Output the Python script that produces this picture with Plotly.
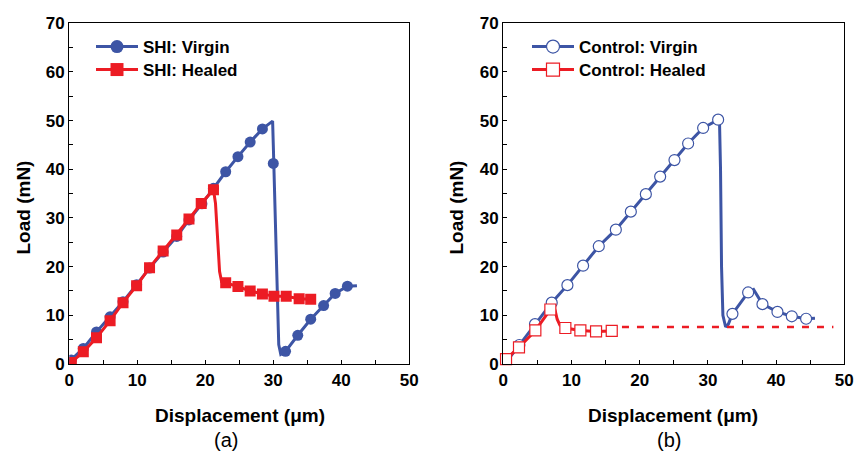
import plotly.graph_objects as go

BLUE = "#3d55a5"
RED = "#ec1c24"

# ---------------- Panel (a): SHI ----------------
shi_virgin_curve_x = [0, 2.06, 4.0, 6.0, 7.9, 9.9, 11.8, 13.8, 15.8, 17.6, 19.5, 21.2, 23.0, 24.8, 26.6,
                      28.4, 29.6, 29.9, 30.0, 30.2, 30.5, 30.8, 31.1, 31.8, 33.6, 35.5, 37.4, 39.1, 40.9, 42.3]
shi_virgin_curve_y = [0.5, 3.2, 6.6, 9.7, 12.8, 16.3, 19.7, 23.0, 26.2, 29.6, 32.9, 36.1, 39.5, 42.6, 45.6,
                      48.3, 49.6, 49.9, 45.0, 35.0, 15.0, 4.0, 2.0, 2.6, 5.9, 9.2, 12.0, 14.5, 16.0, 16.1]
shi_virgin_mark_x = [0.3, 2.06, 4.0, 6.0, 7.9, 9.9, 11.8, 13.8, 15.8, 17.6, 19.5, 21.2, 23.0, 24.8, 26.6,
                     28.4, 30.0, 31.8, 33.6, 35.5, 37.4, 39.1, 40.9]
shi_virgin_mark_y = [0.8, 3.2, 6.6, 9.7, 12.8, 16.3, 19.7, 23.0, 26.2, 29.6, 32.9, 36.1, 39.5, 42.6, 45.6,
                     48.3, 41.2, 2.6, 5.9, 9.2, 12.0, 14.5, 16.0]

shi_healed_curve_x = [0, 2.06, 4.0, 6.0, 7.9, 9.9, 11.8, 13.8, 15.8, 17.6, 19.4, 21.2, 21.5, 21.8, 22.1,
                      22.4, 23.0, 24.8, 26.6, 28.4, 30.1, 31.9, 33.8, 35.5]
shi_healed_curve_y = [0.0, 2.5, 5.4, 8.9, 12.6, 16.1, 19.8, 23.2, 26.5, 29.8, 33.0, 35.8, 33.0, 26.0, 19.0,
                      16.9, 16.7, 15.9, 15.0, 14.4, 13.9, 13.9, 13.4, 13.3]
shi_healed_mark_x = [0.3, 2.06, 4.0, 6.0, 7.9, 9.9, 11.8, 13.8, 15.8, 17.6, 19.4, 21.2, 23.0, 24.8, 26.6,
                     28.4, 30.1, 31.9, 33.8, 35.5]
shi_healed_mark_y = [0.3, 2.5, 5.4, 8.9, 12.6, 16.1, 19.8, 23.2, 26.5, 29.8, 33.0, 35.8, 16.7, 15.9, 15.0,
                     14.4, 13.9, 13.9, 13.4, 13.3]

# ---------------- Panel (b): Control ----------------
ctl_virgin_curve_x = [0.5, 2.35, 4.65, 7.1, 9.4, 11.7, 14.0, 16.5, 18.7, 20.9, 23.0, 25.1, 27.1, 29.3, 31.5,
                      31.7, 31.85, 32.0, 32.2, 32.6, 33.0, 33.6, 35.9, 36.7, 38.0, 40.2, 42.3, 44.4, 45.7]
ctl_virgin_curve_y = [0.5, 3.9, 8.2, 12.6, 16.2, 20.2, 24.2, 27.6, 31.3, 34.9, 38.5, 41.9, 45.3, 48.5, 50.2,
                      50.0, 40.0, 20.0, 10.0, 7.6, 8.2, 10.3, 14.7, 15.3, 12.3, 10.7, 9.8, 9.3, 9.4]
ctl_virgin_mark_x = [2.35, 4.65, 7.1, 9.4, 11.7, 14.0, 16.5, 18.7, 20.9, 23.0, 25.1, 27.1, 29.3, 31.5,
                     33.6, 35.9, 38.0, 40.2, 42.3, 44.4]
ctl_virgin_mark_y = [3.9, 8.2, 12.6, 16.2, 20.2, 24.2, 27.6, 31.3, 34.9, 38.5, 41.9, 45.3, 48.5, 50.2,
                     10.3, 14.7, 12.3, 10.7, 9.8, 9.3]

ctl_healed_curve_x = [0.0, 0.4, 2.3, 4.7, 6.9, 7.3, 7.6, 7.9, 8.3, 9.1, 11.3, 13.6, 15.9]
ctl_healed_curve_y = [0.5, 1.0, 3.4, 6.9, 11.2, 12.0, 11.0, 9.2, 8.0, 7.4, 6.9, 6.7, 6.8]
ctl_healed_mark_x = [0.4, 2.3, 4.7, 6.9, 9.1, 11.3, 13.6, 15.9]
ctl_healed_mark_y = [1.0, 3.4, 6.9, 11.2, 7.4, 6.9, 6.7, 6.8]

ctl_healed_extrap_x = [17.4, 48.4]
ctl_healed_extrap_y = [7.6, 7.6]

x_ticks = [0, 10, 20, 30, 40, 50]
y_ticks = [0, 10, 20, 30, 40, 50, 60, 70]

FONT = "Liberation Sans, Arial, sans-serif"
LW = 3
W, H = 856, 451

fig = go.Figure()

def add_series(curve_x, curve_y, mx, my, color, symbol, fill, name, xa, ya, legend, clip=True):
    fig.add_trace(go.Scatter(x=curve_x, y=curve_y, mode="lines", line=dict(color=color, width=LW),
                             showlegend=False, xaxis=xa, yaxis=ya, hoverinfo="skip"))
    fig.add_trace(go.Scatter(x=mx, y=my, mode="markers", cliponaxis=clip,
                             marker=dict(symbol=symbol, size=11, color=fill,
                                         line=dict(color=color, width=1.2 if fill == "white" else 0)),
                             showlegend=False, xaxis=xa, yaxis=ya))
    fig.add_trace(go.Scatter(x=[None], y=[None], mode="lines+markers", name=name,
                             line=dict(color=color, width=LW),
                             marker=dict(symbol=symbol, size=13, color=fill,
                                         line=dict(color=color, width=1.2 if fill == "white" else 0)),
                             xaxis=xa, yaxis=ya, legend=legend))

add_series(shi_virgin_curve_x, shi_virgin_curve_y, shi_virgin_mark_x, shi_virgin_mark_y,
           BLUE, "circle", BLUE, "SHI: Virgin", "x", "y", "legend")
add_series(shi_healed_curve_x, shi_healed_curve_y, shi_healed_mark_x, shi_healed_mark_y,
           RED, "square", RED, "SHI: Healed", "x", "y", "legend2")
add_series(ctl_virgin_curve_x, ctl_virgin_curve_y, ctl_virgin_mark_x, ctl_virgin_mark_y,
           BLUE, "circle", "white", "Control: Virgin", "x2", "y2", "legend3")
add_series(ctl_healed_curve_x, ctl_healed_curve_y, ctl_healed_mark_x, ctl_healed_mark_y,
           RED, "square", "white", "Control: Healed", "x2", "y2", "legend4", clip=False)
fig.add_trace(go.Scatter(x=ctl_healed_extrap_x, y=ctl_healed_extrap_y, mode="lines",
                         line=dict(color=RED, width=2.5, dash="7px,8px"), showlegend=False,
                         xaxis="x2", yaxis="y2"))

ydom = [1 - 364 / H, 1 - 23.3 / H]
xdom1 = [69.3 / W, 409.3 / W]
xdom2 = [503.3 / W, 844.3 / W]

def xaxis(dom, anchor):
    return dict(domain=dom, anchor=anchor, range=[0, 50], tickvals=x_ticks, showgrid=False, zeroline=False,
                automargin=False,
                showline=True, linecolor="black", linewidth=1.3, mirror=True,
                ticks="inside", ticklen=4, tickwidth=1.2, tickcolor="black",
                minor=dict(dtick=5, ticks="inside", ticklen=4, tickwidth=1.2, tickcolor="black"),
                tickfont=dict(family=FONT, size=17, color="black", weight="bold"))

def yaxis(anchor):
    return dict(domain=ydom, anchor=anchor, range=[0, 70], tickvals=y_ticks, showgrid=False, zeroline=False,
                automargin=False,
                showline=True, linecolor="black", linewidth=1.3, mirror=True,
                ticks="inside", ticklen=4, tickwidth=1.2, tickcolor="black",
                minor=dict(dtick=5, ticks="inside", ticklen=4, tickwidth=1.2, tickcolor="black"),
                tickfont=dict(family=FONT, size=17, color="black", weight="bold"))

legend_common = dict(bgcolor="rgba(0,0,0,0)", borderwidth=0, itemwidth=42, yanchor="middle", xanchor="left",
                     font=dict(family=FONT, size=17, color="black", weight="bold"))

def lg(xpx, ypx):
    return dict(x=xpx / W, y=1 - ypx / H, **legend_common)

title_font = dict(family=FONT, size=19, color="black", weight="bold")

def ann(text, xpx, ypx, font, angle=0):
    return dict(text=text, x=xpx / W, y=1 - ypx / H, xref="paper", yref="paper", showarrow=False,
                xanchor="center", yanchor="middle", textangle=angle, font=font)

fig.update_layout(
    width=W, height=H, margin=dict(l=0, r=0, t=0, b=0),
    paper_bgcolor="white", plot_bgcolor="white",
    xaxis=xaxis(xdom1, "y"), yaxis=yaxis("x"),
    xaxis2=xaxis(xdom2, "y2"), yaxis2=yaxis("x2"),
    legend=lg(91, 47), legend2=lg(91, 70), legend3=lg(527, 47), legend4=lg(527, 70),
    annotations=[
        ann("Load (mN)", 22.5, 208, title_font, -90),
        ann("Load (mN)", 455.5, 208, title_font, -90),
        ann("Displacement (μm)", 240, 415, title_font),
        ann("Displacement (μm)", 673, 415, title_font),
        ann("(a)", 226, 440, dict(family=FONT, size=20, color="black")),
        ann("(b)", 669, 440, dict(family=FONT, size=20, color="black")),
    ],
)

fig.write_html("out.html")
